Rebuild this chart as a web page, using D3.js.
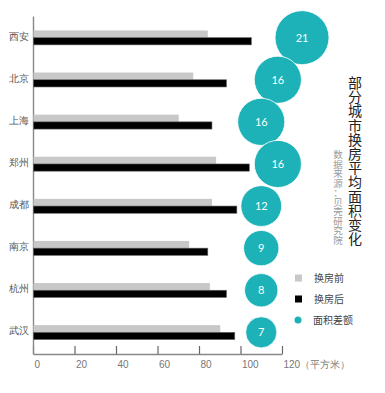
<!DOCTYPE html>
<html>
<head>
<meta charset="utf-8">
<script src="https://cdn.jsdelivr.net/npm/d3@7"></script>
<style>
  body { margin: 0; background: #fff; }
  svg { display: block; font-family: Lato, "Noto Sans CJK SC", sans-serif; }
</style>
</head>
<body>
<svg id="chart" width="385" height="393"></svg>
<script>
const cities = ["西安", "北京", "上海", "郑州", "成都", "南京", "杭州", "武汉"];
const before = [84, 77, 70, 88, 86, 75, 85, 90];
const after = [105, 93, 86, 104, 98, 84, 93, 97];
const diff = [21, 16, 16, 16, 12, 9, 8, 7];
const xTicks = [0, 20, 40, 60, 80, 100, 120];
const seriesNames = ["换房前", "换房后", "面积差额"];
const title = "部分城市换房平均面积变化";
const source = "数据来源：贝壳研究院";

const teal = "#1cb2b8";
const svg = d3.select("#chart");

const x = d3.scaleLinear().domain([0, 120]).range([33, 282]);
const y = d3.scaleBand().domain(cities).range([16, 354])
  .paddingInner(0.657).paddingOuter(0.343);
const sub = d3.scaleBand().domain(["before", "after"]).range([0, y.bandwidth()]);
const r = d3.scaleSqrt().domain([0, 21]).range([0, 27]);

// axes
const xAxis = svg.append("g")
  .attr("transform", "translate(0,354)")
  .call(d3.axisBottom(x).tickValues(xTicks).tickSize(-8).tickSizeOuter(0).tickPadding(7)
    .tickFormat(d => d === 120 ? "120（平方米）" : d));
xAxis.select(".domain").attr("stroke", "#888").attr("stroke-width", 1.4);
xAxis.selectAll(".tick line").attr("stroke", "#666").attr("stroke-width", 1.2);
xAxis.selectAll(".tick text").attr("text-anchor", "start").attr("x", 1)
  .attr("fill", "#777").style("font-size", "10px");

const yAxis = svg.append("g")
  .attr("transform", "translate(33,0)")
  .call(d3.axisLeft(y).tickSize(0).tickSizeOuter(0).tickPadding(4));
yAxis.select(".domain").attr("stroke", "#888").attr("stroke-width", 1.4);
yAxis.selectAll(".tick text").attr("fill", "#555").attr("dy", "0.2em")
  .style("font-size", "10px");

const rows = cities.map((c, i) => ({ city: c, before: before[i], after: after[i], diff: diff[i] }));

// bars
svg.append("g").selectAll("rect.before").data(rows).enter().append("rect")
  .attr("x", x(0) + 0.5)
  .attr("y", d => y(d.city) + sub("before"))
  .attr("width", d => x(d.before) - x(0))
  .attr("height", sub.bandwidth())
  .attr("fill", "#c8c8c8");

svg.append("g").selectAll("rect.after").data(rows).enter().append("rect")
  .attr("x", x(0) + 0.5)
  .attr("y", d => y(d.city) + sub("after"))
  .attr("width", d => x(d.after) - x(0))
  .attr("height", sub.bandwidth())
  .attr("fill", "#000")
  .attr("stroke", "#666")
  .attr("stroke-width", 0.6);

// bubbles: dodge to the right of x=110, placed in order of the after value
const xWall = x(110);
const nodes = rows.map(d => ({
  ...d,
  y: y(d.city) + y.bandwidth() / 2,
  rad: r(d.diff)
}));
const placed = [];
nodes.slice().sort((a, b) => d3.ascending(a.after, b.after)).forEach(n => {
  let px = xWall;
  placed.forEach(p => {
    const dy = Math.abs(p.y - n.y);
    const need = (p.rad + n.rad) * 0.96;
    if (dy < need) px = Math.max(px, p.x + Math.sqrt(need * need - dy * dy));
  });
  n.x = px;
  placed.push(n);
});

const bub = svg.append("g").selectAll("g").data(nodes).enter().append("g")
  .attr("transform", d => `translate(${d.x},${d.y})`);
bub.append("circle")
  .attr("r", d => d.rad)
  .attr("fill", teal)
  .attr("stroke", "#fff")
  .attr("stroke-width", 0.8);
bub.append("text")
  .attr("text-anchor", "middle")
  .attr("dy", "0.35em")
  .attr("fill", "#fff")
  .style("font-size", "11px")
  .text(d => d.diff);

// title & source, one character per line
svg.append("g").selectAll("text").data(Array.from(title)).enter().append("text")
  .attr("x", 355)
  .attr("y", (d, i) => 88 + i * 14.2)
  .attr("text-anchor", "middle")
  .attr("fill", "#222")
  .style("font-size", "14px")
  .text(d => d);

svg.append("g").selectAll("text").data(Array.from(source)).enter().append("text")
  .attr("x", 338)
  .attr("y", (d, i) => 158 + i * 9.5)
  .attr("text-anchor", "middle")
  .attr("fill", "#9a9a9a")
  .style("font-size", "9.5px")
  .text(d => d);

// legend
const legend = svg.append("g").attr("transform", "translate(295,278)");
const lg = legend.selectAll("g").data(seriesNames).enter().append("g")
  .attr("transform", (d, i) => `translate(0,${i * 21})`);
lg.filter((d, i) => i < 2).append("rect")
  .attr("x", 0).attr("y", -3.5).attr("width", 7).attr("height", 7)
  .attr("fill", (d, i) => i === 0 ? "#c8c8c8" : "#000");
lg.filter((d, i) => i === 2).append("circle")
  .attr("cx", 3).attr("cy", 0).attr("r", 3.5).attr("fill", teal);
lg.append("text")
  .attr("x", (d, i) => i === 2 ? 18 : 19)
  .attr("dy", "0.35em")
  .attr("fill", "#444")
  .style("font-size", "10px")
  .text(d => d);
</script>
</body>
</html>
